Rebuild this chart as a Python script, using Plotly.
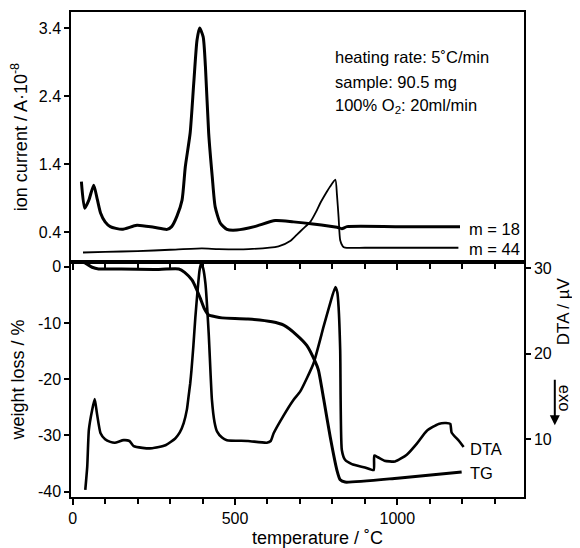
import plotly.graph_objects as go

# ---- data ----
m18_t = [27, 37, 50, 65, 76, 86, 100, 116, 152, 198, 250, 291, 305, 321, 337, 347, 362, 373, 383, 391,
         402, 409, 419, 430, 439, 455, 475, 506, 560, 624, 680, 740, 814, 829, 845, 1000, 1193]
m18_i = [1.14, 0.75, 0.87, 1.09, 0.88, 0.68, 0.55, 0.48, 0.44, 0.50, 0.47, 0.44, 0.48, 0.63, 0.87, 1.36,
         1.86, 2.59, 3.22, 3.40, 3.27, 2.83, 1.85, 1.21, 0.77, 0.53, 0.44, 0.43, 0.48, 0.57, 0.55, 0.52,
         0.47, 0.45, 0.48, 0.48, 0.48]

m44_t = [32, 100, 200, 300, 398, 450, 542, 634, 670, 690, 710, 732, 750, 762, 780, 793, 809, 814, 819,
         824, 832, 839, 900, 1000, 1188]
m44_i = [0.10, 0.11, 0.12, 0.14, 0.16, 0.15, 0.15, 0.19, 0.27, 0.36, 0.45, 0.55, 0.70, 0.82, 0.97, 1.07,
         1.17, 0.95, 0.62, 0.28, 0.19, 0.17, 0.17, 0.17, 0.17]

tg_t = [24, 40, 60, 80, 150, 250, 327, 345, 368, 380, 393, 405, 419, 440, 460, 540, 614, 650, 691, 721,
        747, 757, 773, 793, 814, 824, 839, 1000, 1198]
tg_w = [0.9, 0.6, -0.1, -0.4, -0.4, -0.5, -0.4, -1.0, -2.4, -3.8, -5.6, -7.4, -8.6, -8.9, -9.1, -9.3,
        -9.8, -10.4, -12.2, -14.0, -16.9, -18.4, -23.5, -30.2, -36.2, -37.9, -38.3, -37.6, -36.5]

dta_t = [39, 45, 50, 60, 68, 75, 86, 100, 116, 130, 157, 175, 188, 215, 245, 286, 316, 330, 342, 352,
         357, 362, 366, 372, 378, 385, 391, 396, 402, 409, 419, 429, 437, 445, 460, 475, 540, 598, 610,
         619, 650, 680, 701, 742, 773, 793, 809, 815, 819, 824, 829, 839, 860, 900, 927, 929, 940, 960,
         993, 1029, 1060, 1091, 1127, 1150, 1163, 1167, 1190, 1204]
dta_v = [4.07, 6.8, 11.1, 13.4, 14.7, 13.0, 10.7, 10.0, 9.7, 9.6, 9.9, 9.8, 9.2, 9.0, 8.95, 9.3, 10.1,
         10.8, 11.9, 13.5, 15.0, 16.5, 18.1, 21.0, 24.3, 27.5, 29.8, 30.6, 30.0, 28.2, 22.4, 14.6, 12.0,
         10.9, 10.2, 9.9, 9.8, 9.6, 9.8, 10.7, 12.8, 14.6, 15.6, 18.9, 23.2, 25.9, 27.8, 27.2, 25.5, 20.4,
         8.75, 7.6, 7.1, 6.7, 6.4, 8.1, 7.9, 7.5, 7.4, 8.2, 9.5, 11.0, 11.8, 11.9, 11.8, 10.8, 9.8, 9.1]

x_ticks = [0, 500, 1000]
ion_ticks = [0.4, 1.4, 2.4, 3.4]
tg_ticks = [0, -10, -20, -30, -40]
tg_labels = ["0", "-10", "-20", "-30", "-40"]
dta_ticks = [10, 20, 30]

FONT = "Liberation Sans, Arial, sans-serif"
FS = 16
AFS = 16.5
TFS = 18
SPLIT = 0.4845

fig = go.Figure()
fig.add_trace(go.Scatter(x=m18_t, y=m18_i, mode="lines", name="m = 18", xaxis="x2", yaxis="y2",
                         line=dict(color="black", width=3, shape="spline", smoothing=0.6)))
fig.add_trace(go.Scatter(x=m44_t, y=m44_i, mode="lines", name="m = 44", xaxis="x2", yaxis="y2",
                         line=dict(color="black", width=1.8, shape="spline", smoothing=0.6)))
fig.add_trace(go.Scatter(x=tg_t, y=tg_w, mode="lines", name="TG", xaxis="x", yaxis="y",
                         line=dict(color="black", width=3, shape="spline", smoothing=0.5)))
fig.add_trace(go.Scatter(x=dta_t, y=dta_v, mode="lines", name="DTA", xaxis="x", yaxis="y3",
                         line=dict(color="black", width=2.6, shape="spline", smoothing=0.5)))

axis_common = dict(showline=True, linecolor="black", linewidth=1.5, showgrid=False, zeroline=False,
                   automargin=False, tickcolor="black", tickwidth=1.5,
                   tickfont=dict(family=FONT, size=FS, color="black"))
minor_ticks = dict(dtick=100, tick0=0, ticks="outside", ticklen=5, tickcolor="black", tickwidth=1.5)

# the page body offsets the figure by 8px, so the figure is 8px smaller than the window
fig.update_layout(
    width=572, height=540,
    margin=dict(l=63, r=56, t=4, b=51, autoexpand=False),
    paper_bgcolor="white", plot_bgcolor="white",
    showlegend=False,
    font=dict(family=FONT, size=FS, color="black"),
    xaxis=dict(domain=[0, 1], anchor="y", range=[-5, 1390], tickvals=x_ticks, ticks="outside", ticklen=6,
               mirror=True, minor=minor_ticks, **axis_common),
    xaxis2=dict(domain=[0, 1], anchor="y2", matches="x", range=[-5, 1390], tickvals=x_ticks,
                showticklabels=False, ticks="outside", ticklen=6, mirror=True, minor=minor_ticks,
                **axis_common),
    yaxis=dict(domain=[0, SPLIT], anchor="x", range=[-40.95, 0.83], tickvals=tg_ticks, ticktext=tg_labels,
               ticks="outside", ticklen=5,
               title=dict(text="weight loss / %", font=dict(family=FONT, size=TFS)),
               **axis_common),
    yaxis3=dict(overlaying="y", side="right", anchor="x", range=[3.25, 30.74], tickvals=dta_ticks,
                ticks="outside", ticklen=5, **axis_common),
    yaxis2=dict(domain=[SPLIT, 1], anchor="x2", range=[-0.04, 3.635], tickvals=ion_ticks,
                ticktext=["0.4", "1.4", "2.4", "3.4"], ticks="outside", ticklen=5, mirror=True,
                title=dict(text="ion current / A·10<sup>-8</sup>", font=dict(family=FONT, size=TFS)),
                **axis_common),
)

ann = []
info = ["heating rate: 5˚C/min", "sample: 90.5 mg", "100% O<sub>2</sub>: 20ml/min"]
info_y = [2.97, 2.61, 2.25]
for t, yy in zip(info, info_y):
    ann.append(dict(x=802, y=yy, xref="x2", yref="y2", text=t, showarrow=False, xanchor="left",
                    yanchor="middle", font=dict(family=FONT, size=AFS)))
ann.append(dict(x=1213, y=0.45, xref="x2", yref="y2", text="m = 18", showarrow=False, xanchor="left",
                yanchor="middle", font=dict(family=FONT, size=AFS)))
ann.append(dict(x=1213, y=0.15, xref="x2", yref="y2", text="m = 44", showarrow=False, xanchor="left",
                yanchor="middle", font=dict(family=FONT, size=AFS)))
ann.append(dict(x=1216, y=8.87, xref="x", yref="y3", text="DTA", showarrow=False, xanchor="left",
                yanchor="middle", font=dict(family=FONT, size=AFS)))
ann.append(dict(x=1216, y=-36.7, xref="x", yref="y", text="TG", showarrow=False, xanchor="left",
                yanchor="middle", font=dict(family=FONT, size=AFS)))
# x-axis title placed by hand
ann.append(dict(x=0.545, y=-0.0845, xref="paper", yref="paper", text="temperature / ˚C", showarrow=False,
                xanchor="center", yanchor="middle", font=dict(family=FONT, size=TFS)))
ann.append(dict(x=1.086, y=0.383, xref="paper", yref="paper", text="DTA / µV", showarrow=False,
                textangle=-90, xanchor="center", yanchor="middle", font=dict(family=FONT, size=17)))
ann.append(dict(x=1.091, y=0.204, xref="paper", yref="paper", text="exo", showarrow=False,
                textangle=90, xanchor="center", yanchor="middle", font=dict(family=FONT, size=AFS)))
ann.append(dict(x=1.068, y=0.148, xref="paper", yref="paper", text="", showarrow=True, ax=0, ay=-47,
                arrowhead=2, arrowsize=1, arrowwidth=2, arrowcolor="black"))
fig.update_layout(annotations=ann)

fig.write_html("out.html")
